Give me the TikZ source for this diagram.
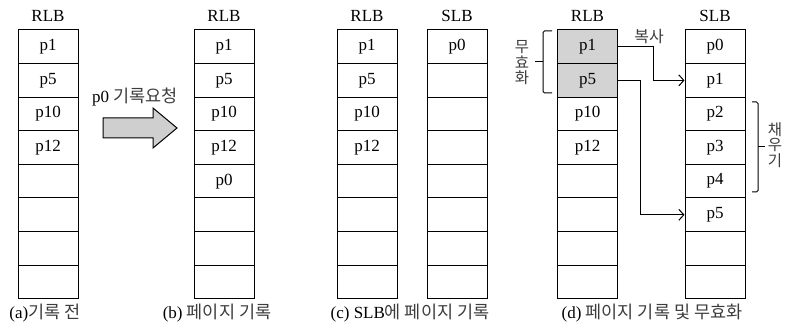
\documentclass[tikz,border=0pt]{standalone}
\usepackage{fontspec}
\setmainfont{Liberation Serif}
\newfontfamily\krf{Noto Sans CJK KR}
\usetikzlibrary{arrows.meta}
\definecolor{krgray}{HTML}{3C3C3C}
\definecolor{cellgray}{HTML}{D3D3D3}
\definecolor{arrowgray}{HTML}{CFCFCF}
\newcommand{\krtxt}[1]{{\krf\color{krgray}\fontsize{17.5}{19}\selectfont #1}}
\tikzset{
  cell/.style={draw, line width=1pt, minimum width=60pt, minimum height=33.6pt, inner sep=0pt, font=\fontsize{17}{19}\selectfont},
  hdr/.style={font=\fontsize{17}{19}\selectfont, inner sep=0pt},
  krlab/.style={font=\krf\fontsize{16}{18}\selectfont, text=krgray, inner sep=0pt},
  vlab/.style={font=\krf\fontsize{15.5}{16.5}\selectfont, text=krgray, align=center, inner sep=0pt},
  captxt/.style={font=\fontsize{17}{19}\selectfont, inner sep=0pt},
  conn/.style={line width=1pt, -{Straight Barb[length=5pt,width=11pt,line width=1pt]}},
  bracket/.style={line width=1pt, rounded corners=1.5pt},
}
\newcommand{\bufcol}[4]{%
  \node[hdr] (#1h) at (#2,16) {#3};
  \foreach \t/\f [count=\i] in {#4} {
    \node[cell, fill=\f] (#1\i) at (#2,{46.8+(\i-1)*33.6}) {\t};
  }
}
\begin{document}
\begin{tikzpicture}[x=1pt,y=-1pt]
\useasboundingbox (0,0) rectangle (788,326);

% (a)
\bufcol{a}{48}{RLB}{p1/white,p5/white,p10/white,p12/white,/white,/white,/white,/white}
\node[captxt] (capa) at (45,313) {(a)\krtxt{기록 전}};

% big arrow
\node[captxt] (reqlab) at (135,97) {p0 \krtxt{기록요청}};
\draw[line width=1pt, fill=arrowgray] (103,118) -- (153,118) -- (153,108) -- (177,128) -- (153,148) -- (153,138) -- (103,138) -- cycle;

% (b)
\bufcol{b}{224}{RLB}{p1/white,p5/white,p10/white,p12/white,p0/white,/white,/white,/white}
\node[captxt] (capb) at (217,313) {(b) \krtxt{페이지 기록}};

% (c)
\bufcol{cr}{367}{RLB}{p1/white,p5/white,p10/white,p12/white,/white,/white,/white,/white}
\bufcol{cs}{457}{SLB}{p0/white,/white,/white,/white,/white,/white,/white,/white}
\node[captxt] (capc) at (410,313) {(c) SLB\krtxt{에 페이지 기록}};

% (d)
\bufcol{dr}{587.5}{RLB}{p1/cellgray,p5/cellgray,p10/white,p12/white,/white,/white,/white,/white}
\bufcol{ds}{715}{SLB}{p0/white,p1/white,p2/white,p3/white,p4/white,p5/white,/white,/white}
\node[captxt] (capd) at (652,313) {(d) \krtxt{페이지 기록 및 무효화}};

\node[krlab] (copylab) at (649,37) {복사};
\draw[conn] (dr1.east) -- ++(35,0) |- (ds2.west);
\draw[conn] (dr2.east) -- ++(22,0) |- (ds6.west);

% brackets
\coordinate (lbt) at (552,31);
\coordinate (lbb) at (552,93);
\draw[bracket] (lbt) -- (543,31) -- (543,93) -- (lbb);
\draw[line width=1pt] (543,62) -- (535,62);
\node[vlab] (invlab) at (522,63) {무\\[-1pt]효\\[-1pt]화};

\coordinate (rbt) at (752,102);
\coordinate (rbb) at (752,192);
\draw[bracket] (rbt) -- (758,102) -- (758,192) -- (rbb);
\draw[line width=1pt] (758,147) -- (765,147);
\node[vlab] (filllab) at (775,145) {채\\[-1pt]우\\[-1pt]기};
\end{tikzpicture}
\end{document}
